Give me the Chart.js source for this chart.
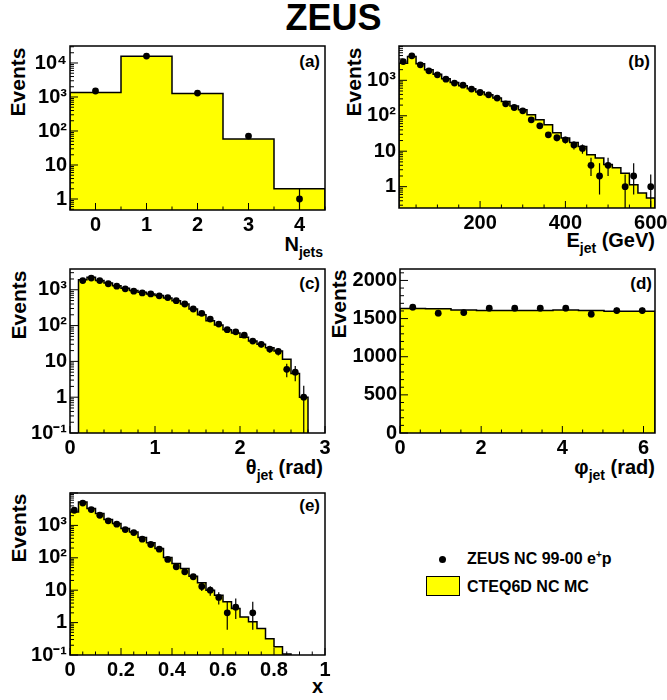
<!DOCTYPE html>
<html><head><meta charset="utf-8">
<script src="https://cdn.jsdelivr.net/npm/chart.js@4/dist/chart.umd.min.js"></script>
<style>
html,body{margin:0;padding:0;background:#fff;}
#page{position:relative;width:667px;height:700px;overflow:hidden;font-family:"Liberation Sans",Arial,Helvetica,sans-serif;font-weight:bold;color:#000;}
canvas{position:absolute;}
.t{position:absolute;white-space:nowrap;line-height:1;}
.yt{font-size:21px;transform:translate(-50%,-50%) rotate(-90deg);}
.xt{font-size:20px;text-align:right;line-height:20px;}
.xt sub{font-size:14px;vertical-align:-6px;line-height:0;}
.pl{font-size:17px;text-align:right;}
.lg{font-size:16px;line-height:16px;}
.lg sup{font-size:10px;vertical-align:6px;line-height:0;}
</style></head><body><div id="page">
<div class="t" style="left:0;width:667px;text-align:center;top:0px;font-size:36px;">ZEUS</div>

<div class="t yt" style="left:17px;top:82px;">Events</div>
<div class="t yt" style="left:353px;top:82px;">Events</div>
<div class="t yt" style="left:18px;top:305px;">Events</div>
<div class="t yt" style="left:338px;top:304px;">Events</div>
<div class="t yt" style="left:18px;top:528px;">Events</div>

<div class="t xt" style="right:344px;top:234px;">N<sub>jets</sub></div>
<div class="t xt" style="right:12px;top:230px;">E<sub>jet</sub> (GeV)</div>
<div class="t xt" style="right:344px;top:457px;">θ<sub>jet</sub> (rad)</div>
<div class="t xt" style="right:12px;top:457px;">φ<sub>jet</sub> (rad)</div>
<div class="t xt" style="right:344px;top:676px;">x</div>

<div class="t pl" style="right:347px;top:53px;">(a)</div>
<div class="t pl" style="right:17px;top:53px;">(b)</div>
<div class="t pl" style="right:347px;top:275px;">(c)</div>
<div class="t pl" style="right:15px;top:275px;">(d)</div>
<div class="t pl" style="right:347px;top:497px;">(e)</div>

<div class="t" style="left:438.8px;top:555.5px;width:7px;height:7px;border-radius:50%;background:#000;"></div>
<div class="t lg" style="left:467px;top:551px;">ZEUS NC 99-00 e<sup>+</sup>p</div>
<div class="t" style="left:426px;top:576px;width:32px;height:18px;background:#ffff00;border:1px solid #000;"></div>
<div class="t lg" style="left:467px;top:579px;">CTEQ6D NC MC</div>
</div>
<script>
// ================= DATA =================
// (a) number of jets
const aNjets   = [0, 1, 2, 3, 4];
const aEdges   = [-0.5, 0.5, 1.5, 2.5, 3.5, 4.5];
const aMC      = [1350, 15700, 1260, 58, 2];
const aData    = [1500, 16000, 1300, 71, 1];
const aErrUp   = [39, 126, 36, 8.4, 1.1];
const aErrDown = [39, 126, 36, 8.4, 1];
const aTicksX  = [0, 1, 2, 3, 4];
const aTicksY  = [1, 10, 100, 1000, 10000];
const aLabelsY = ['1', '10', '10²', '10³', '10⁴'];

// (b) jet energy (GeV)
const bEjet    = [20, 40, 60, 80, 100, 120, 140, 160, 180, 200, 220, 240, 260, 280, 300, 320, 340, 360, 380, 400, 420, 440, 460, 480, 500, 540, 560, 600];
const bData    = [3390, 4900, 2730, 1850, 1430, 1080, 834, 731, 565, 454, 391, 315, 218, 171, 138, 77, 52, 29, 24, 21, 15, 12, 4, 2, 4, 1, 2, 1];
const bErrUp   = [58, 70, 52, 43, 38, 33, 29, 27, 24, 21, 20, 18, 15, 13, 12, 8.8, 7.2, 5.4, 4.9, 4.6, 3.9, 3.5, 2.5, 2.6, 2.5, 1.2, 2.6, 1.2];
const bErrDown = [58, 70, 52, 43, 38, 33, 29, 27, 24, 21, 20, 18, 15, 13, 12, 8.8, 7.2, 5.4, 4.9, 4.6, 3.9, 3.5, 2, 1.4, 2, 1, 1.4, 1];
const bEdges   = [10, 30, 50, 70, 90, 110, 130, 150, 170, 190, 210, 230, 250, 270, 290, 310, 330, 350, 370, 390, 410, 430, 450, 470, 490, 510, 530, 550, 570, 590, 610];
const bMC      = [3050, 4680, 2920, 1980, 1480, 1100, 870, 700, 575, 465, 390, 315, 253, 190, 148, 107, 77, 56, 33, 23.6, 17.7, 13.5, 8, 6.4, 4.2, 3.4, 2.4, 1.14, 0.66, 0.48];
const bTicksX  = [200, 400, 600];
const bTicksY  = [1, 10, 100, 1000];
const bLabelsY = ['1', '10', '10²', '10³'];

// (c) jet polar angle (rad)
const cTheta   = [0.15, 0.25, 0.35, 0.45, 0.55, 0.65, 0.75, 0.85, 0.95, 1.05, 1.15, 1.25, 1.35, 1.45, 1.55, 1.65, 1.75, 1.85, 1.95, 2.05, 2.15, 2.25, 2.35, 2.45, 2.55, 2.65, 2.75];
const cData    = [1810, 2120, 1810, 1470, 1260, 1060, 912, 818, 767, 675, 605, 497, 400, 290, 220, 152, 110, 77, 67, 54, 37, 30, 22, 19, 6, 5, 1];
const cErrUp   = [43, 46, 43, 38, 35, 33, 30, 29, 28, 26, 25, 22, 20, 17, 15, 12, 10.5, 8.8, 8.2, 7.3, 6.1, 5.5, 4.7, 4.4, 2.6, 2.4, 1.1];
const cErrDown = [43, 46, 43, 38, 35, 33, 30, 29, 28, 26, 25, 22, 20, 17, 15, 12, 10.5, 8.8, 8.2, 7.3, 6.1, 5.5, 4.7, 4.4, 2.4, 2.2, 1];
const cEdges   = [0.1, 0.2, 0.3, 0.4, 0.5, 0.6, 0.7, 0.8, 0.9, 1.0, 1.1, 1.2, 1.3, 1.4, 1.5, 1.6, 1.7, 1.8, 1.9, 2.0, 2.1, 2.2, 2.3, 2.4, 2.5, 2.6, 2.7, 2.8];
const cMC      = [1900, 2250, 1800, 1550, 1300, 1100, 950, 850, 767, 690, 590, 497, 400, 290, 200, 137, 103, 77, 62, 47, 37, 30, 24, 19.5, 11.5, 4.6, 1.0];
const cTicksX  = [0, 1, 2, 3];
const cTicksY  = [0.1, 1, 10, 100, 1000];
const cLabelsY = ['10⁻¹', '1', '10', '10²', '10³'];

// (d) jet azimuth (rad)
const dPhi     = [0.314, 0.942, 1.571, 2.199, 2.827, 3.456, 4.084, 4.712, 5.341, 5.969];
const dData    = [1650, 1571, 1579, 1637, 1637, 1637, 1637, 1558, 1605, 1605];
const dErrUp   = [41, 40, 40, 40, 40, 40, 40, 39, 40, 40];
const dErrDown = [41, 40, 40, 40, 40, 40, 40, 39, 40, 40];
const dEdges   = [0, 0.628, 1.257, 1.885, 2.513, 3.142, 3.770, 4.398, 5.027, 5.655, 6.283];
const dMC      = [1632, 1630, 1614, 1605, 1605, 1605, 1614, 1605, 1597, 1597];
const dTicksX  = [0, 2, 4, 6];
const dTicksY  = [0, 500, 1000, 1500, 2000];
const dLabelsY = ['0', '500', '1000', '1500', '2000'];

// (e) x
const eX       = [0.0167, 0.05, 0.0833, 0.1167, 0.15, 0.1833, 0.2167, 0.25, 0.2833, 0.3167, 0.35, 0.3833, 0.4167, 0.45, 0.4833, 0.5167, 0.55, 0.5833, 0.6167, 0.65, 0.7167];
const eData    = [2930, 4900, 3080, 2060, 1380, 1090, 745, 600, 375, 257, 185, 89, 53, 37, 26, 13, 10, 6, 2, 3, 2];
const eErrUp   = [54, 70, 55, 45, 37, 33, 27, 24, 19, 16, 14, 9.4, 7.3, 6.1, 5.1, 3.6, 3.2, 2.6, 2.4, 2.5, 2.4];
const eErrDown = [54, 70, 55, 45, 37, 33, 27, 24, 19, 16, 14, 9.4, 7.3, 6.1, 5.1, 3.6, 3.2, 2.4, 1.4, 1.7, 1.4];
const eEdges   = [0, 0.0333, 0.0667, 0.1, 0.1333, 0.1667, 0.2, 0.2333, 0.2667, 0.3, 0.3333, 0.3667, 0.4, 0.4333, 0.4667, 0.5, 0.5333, 0.5667, 0.6, 0.6333, 0.6667, 0.7, 0.7333, 0.7667, 0.8, 0.8333, 0.8667];
const eMC      = [2600, 5300, 3300, 2320, 1510, 1140, 800, 630, 420, 290, 193, 102, 67, 47, 27, 17, 10, 7, 4.4, 2.7, 1.5, 1.07, 0.66, 0.32, 0.18, 0.107];
const eTicksX  = [0, 0.2, 0.4, 0.6, 0.8, 1];
const eLabelsX = ['0', '0.2', '0.4', '0.6', '0.8', '1'];
const eTicksY  = [0.1, 1, 10, 100, 1000];
const eLabelsY = ['10⁻¹', '1', '10', '10²', '10³'];

// ================= DRAWING =================
const FONT = '"Liberation Sans", Arial, Helvetica, sans-serif';
const page = document.getElementById('page');

function stepPoints(edges, vals, floor) {
  const pts = [{x: edges[0], y: floor}];
  vals.forEach((v, i) => pts.push({x: edges[i], y: v}));
  pts.push({x: edges[edges.length - 1], y: vals[vals.length - 1]});
  pts.push({x: edges[edges.length - 1], y: floor});
  return pts;
}

const errPlugin = {
  id: 'errbars',
  afterDatasetsDraw(chart) {
    const {ctx, chartArea: a, scales: {x, y}} = chart;
    ctx.save();
    ctx.beginPath(); ctx.rect(a.left, a.top, a.right - a.left, a.bottom - a.top); ctx.clip();
    ctx.strokeStyle = '#000'; ctx.lineWidth = 1.2;
    chart.data.datasets.forEach(ds => {
      if (!ds.errUp) return;
      ds.data.forEach((p, i) => {
        const px = x.getPixelForValue(p.x);
        const lo = p.y - ds.errDown[i];
        const yLo = (y.type === 'logarithmic' && lo <= 0) ? a.bottom + 5 : y.getPixelForValue(lo);
        const yHi = y.getPixelForValue(p.y + ds.errUp[i]);
        ctx.beginPath(); ctx.moveTo(px, yLo); ctx.lineTo(px, yHi); ctx.stroke();
      });
    });
    ctx.restore();
  }
};

const framePlugin = {
  id: 'frame',
  afterDraw(chart) {
    const {ctx, chartArea: a, scales: {x, y}} = chart;
    const o = chart.options.plugins.frame;
    ctx.save();
    ctx.strokeStyle = '#000'; ctx.lineWidth = 1;
    const seg = (x1, y1, x2, y2) => { ctx.beginPath(); ctx.moveTo(x1, y1); ctx.lineTo(x2, y2); ctx.stroke(); };
    for (let v = Math.ceil(x.min / o.xMinor - 1e-6) * o.xMinor; v <= x.max + 1e-9; v += o.xMinor) {
      const p = x.getPixelForValue(v);
      const isMaj = Math.abs(v / o.xMajor - Math.round(v / o.xMajor)) < 1e-6;
      seg(p, a.bottom, p, a.bottom - (isMaj ? 7 : 3.5));
    }
    if (y.type === 'logarithmic') {
      const e0 = Math.floor(Math.log10(y.min)), e1 = Math.ceil(Math.log10(y.max));
      for (let e = e0; e <= e1; e++) {
        for (let k = 1; k <= 9; k++) {
          const v = k * Math.pow(10, e);
          if (v < y.min || v > y.max) continue;
          const p = y.getPixelForValue(v);
          seg(a.left, p, a.left + (k === 1 ? 8 : 4), p);
        }
      }
    } else {
      for (let v = Math.ceil(y.min / o.yMinor) * o.yMinor; v <= y.max + 1e-9; v += o.yMinor) {
        const p = y.getPixelForValue(v);
        const isMaj = Math.abs(v / o.yMajor - Math.round(v / o.yMajor)) < 1e-6;
        seg(a.left, p, a.left + (isMaj ? 8 : 4), p);
      }
    }
    ctx.lineWidth = 1.5;
    ctx.strokeRect(a.left, a.top, a.right - a.left, a.bottom - a.top);
    ctx.restore();
  }
};

function makePanel(p) {
  const padL = 64, padT = 12, padR = 18, padB = 34;
  const cv = document.createElement('canvas');
  cv.width = p.w + padL + padR; cv.height = p.h + padT + padB;
  cv.style.left = (p.left - padL) + 'px'; cv.style.top = (p.top - padT) + 'px';
  page.appendChild(cv);
  const tickFont = {family: FONT, size: 20, weight: 'bold'};
  new Chart(cv, {
    type: 'line',
    data: {datasets: [
      {label: 'ZEUS NC 99-00', data: p.xs.map((xv, i) => ({x: xv, y: p.data[i]})), showLine: false, order: 0,
       pointRadius: 3.4, pointBackgroundColor: '#000', pointBorderColor: '#000', pointBorderWidth: 0,
       errUp: p.errUp, errDown: p.errDown},
      {label: 'CTEQ6D NC MC', data: stepPoints(p.edges, p.mc, p.floor), stepped: 'before', fill: 'start', order: 1,
       backgroundColor: '#ffff00', borderColor: '#000', borderWidth: 1.5, pointRadius: 0, tension: 0}
    ]},
    options: {
      responsive: false, animation: false, devicePixelRatio: 1,
      layout: {padding: {left: 0, top: padT, right: padR, bottom: 0}},
      plugins: {legend: {display: false}, tooltip: {enabled: false},
                frame: {xMinor: p.xMinor, xMajor: p.xMajor, yMinor: p.yMinor, yMajor: p.yMajor}},
      scales: {
        x: {type: 'linear', min: p.xMin, max: p.xMax,
            grid: {display: false, drawTicks: false}, border: {display: false},
            afterBuildTicks: s => { s.ticks = p.ticksX.map(v => ({value: v})); },
            ticks: {font: tickFont, color: '#000', padding: 3, autoSkip: false, maxRotation: 0,
                    callback: (v, i) => (p.labelsX ? p.labelsX[i] : String(p.ticksX[i]))},
            afterFit: s => { s.height = padB; s.paddingLeft = 0; s.paddingRight = 0; }},
        y: {type: p.log ? 'logarithmic' : 'linear', min: p.yMin, max: p.yMax,
            grid: {display: false, drawTicks: false}, border: {display: false},
            afterBuildTicks: s => { s.ticks = p.ticksY.map(v => ({value: v, major: true})); },
            ticks: {font: tickFont, color: '#000', padding: 3, autoSkip: false,
                    callback: (v, i) => p.labelsY[i]},
            afterFit: s => { s.width = padL; s.paddingTop = 0; s.paddingBottom = 0; }}
      }
    },
    plugins: [errPlugin, framePlugin]
  });
}

makePanel({left: 70, top: 46, w: 255, h: 164, xMin: -0.5, xMax: 4.5, yMin: 0.475, yMax: 31600, log: true,
  edges: aEdges, mc: aMC, floor: 0.2, xs: aNjets, data: aData, errUp: aErrUp, errDown: aErrDown,
  ticksX: aTicksX, ticksY: aTicksY, labelsY: aLabelsY, xMinor: 0.5, xMajor: 1});
makePanel({left: 399, top: 46, w: 256, h: 162.5, xMin: 10, xMax: 610, yMin: 0.25, yMax: 9300, log: true,
  edges: bEdges, mc: bMC, floor: 0.1, xs: bEjet, data: bData, errUp: bErrUp, errDown: bErrDown,
  ticksX: bTicksX, ticksY: bTicksY, labelsY: bLabelsY, xMinor: 50, xMajor: 200});
makePanel({left: 70, top: 269, w: 255, h: 164, xMin: 0, xMax: 3, yMin: 0.1, yMax: 3800, log: true,
  edges: cEdges, mc: cMC, floor: 0.01, xs: cTheta, data: cData, errUp: cErrUp, errDown: cErrDown,
  ticksX: cTicksX, ticksY: cTicksY, labelsY: cLabelsY, xMinor: 0.2, xMajor: 1});
makePanel({left: 400, top: 269, w: 255, h: 164, xMin: 0, xMax: 6.2832, yMin: 0, yMax: 2150, log: false,
  edges: dEdges, mc: dMC, floor: 0, xs: dPhi, data: dData, errUp: dErrUp, errDown: dErrDown,
  ticksX: dTicksX, ticksY: dTicksY, labelsY: dLabelsY, xMinor: 0.5, xMajor: 2, yMinor: 100, yMajor: 500});
makePanel({left: 70, top: 493, w: 255, h: 162, xMin: 0, xMax: 1, yMin: 0.1, yMax: 10000, log: true,
  edges: eEdges, mc: eMC, floor: 0.01, xs: eX, data: eData, errUp: eErrUp, errDown: eErrDown,
  ticksX: eTicksX, labelsX: eLabelsX, ticksY: eTicksY, labelsY: eLabelsY, xMinor: 0.05, xMajor: 0.2});
</script>
</body></html>
